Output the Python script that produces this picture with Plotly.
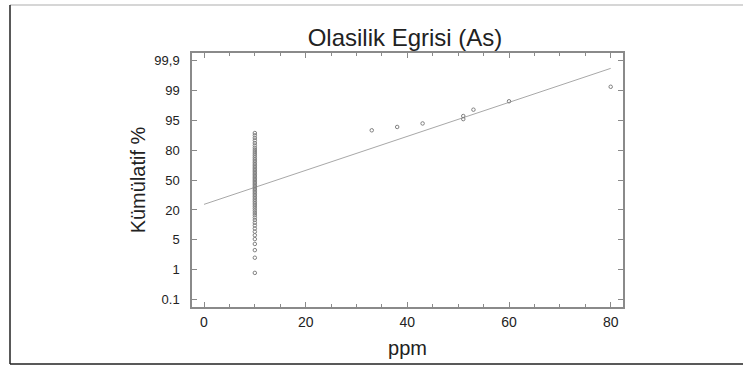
import numpy as np
import plotly.graph_objects as go
from statistics import NormalDist

# ---- data (cumulative %) ----
tick_pct = [0.1, 1, 5, 20, 50, 80, 95, 99, 99.9]
tick_text = ["0.1", "1", "5", "20", "50", "80", "95", "99", "99,9"]

col_x = 10
col_pct = [0.8, 2.0, 3.0, 4.1, 5.2, 6.4, 7.7, 9.0, 10.4, 11.8, 13.3, 14.8, 16.3,
           17.8, 19.4, 21.0, 22.6, 24.2, 25.8, 27.4, 29.0, 30.6, 32.2, 33.8,
           35.4, 37.0, 38.6, 40.2, 41.8, 43.4, 45.0, 46.6, 48.2, 49.8, 51.4,
           53.0, 54.6, 56.2, 57.8, 59.4, 61.0, 62.6, 64.2, 65.8, 67.4, 69.0,
           70.6, 72.2, 73.8, 75.4, 77.0, 78.6, 80.2, 81.8, 83.4, 85.0, 86.6,
           88.0, 89.3, 90.4]
hi_x = [33, 38, 43, 51, 51, 53, 60, 80]
hi_pct = [91.6, 92.9, 94.1, 95.3, 95.95, 97.06, 98.13, 99.23]

line_x = [0, 80]
line_pct = [24.7, 99.81]

nd = NormalDist()
tick_z = [nd.inv_cdf(p / 100) for p in tick_pct]
tick_idx = list(range(len(tick_pct)))


def to_axis(pcts):
    z = [nd.inv_cdf(p / 100) for p in pcts]
    return np.interp(z, tick_z, tick_idx)


xs = [col_x] * len(col_pct) + hi_x
ys = list(to_axis(col_pct)) + list(to_axis(hi_pct))

FONT = "Liberation Sans, Arial, Helvetica, sans-serif"
AX = "#8a8a8a"
TXT = "#222222"

fig = go.Figure()
fig.add_trace(go.Scatter(
    x=line_x, y=to_axis(line_pct), mode="lines",
    line=dict(color="#a8a8a8", width=1), hoverinfo="skip", showlegend=False))
fig.add_trace(go.Scatter(
    x=xs, y=ys, mode="markers",
    marker=dict(symbol="circle-open", size=3.5, color="#808080",
                line=dict(width=1, color="#808080")),
    showlegend=False))

fig.update_layout(
    width=743, height=366,
    margin=dict(l=192, r=120, t=53, b=59, autoexpand=False),
    paper_bgcolor="white", plot_bgcolor="white",
    font=dict(family=FONT, color=TXT, size=13),
    title=dict(text="Olasilik Egrisi (As)", x=405 / 743, xref="container",
               xanchor="center", y=1 - 38 / 366, yref="container",
               yanchor="middle", font=dict(size=24, color=TXT)),
    showlegend=False,
)
fig.update_xaxes(
    automargin=False,
    range=[-2.36, 82.42], tickvals=[0, 20, 40, 60, 80],
    ticks="inside", ticklen=5, tickcolor=AX, tickwidth=1,
    minor=dict(dtick=5, tick0=0, ticks="inside", ticklen=3, tickcolor=AX, tickwidth=1),
    showline=True, linecolor=AX, linewidth=1.5, mirror="ticks",
    showgrid=False, zeroline=False,
    tickfont=dict(size=14, color=TXT), ticklabelstandoff=1,
    title=dict(text="ppm", font=dict(size=20, color=TXT), standoff=12),
)
fig.update_yaxes(
    automargin=False,
    range=[-0.251, 8.258], tickvals=tick_idx, ticktext=tick_text,
    ticks="inside", ticklen=5, tickcolor=AX, tickwidth=1,
    showline=True, linecolor=AX, linewidth=1.5, mirror="ticks",
    showgrid=False, zeroline=False,
    tickfont=dict(size=13, color=TXT), ticklabelstandoff=8,
    title=dict(text="Kümülatif %", font=dict(size=20, color=TXT), standoff=3),
)

# outer frame of the picture
pw, ph = 431.0, 254.0
def px(xp):
    return (xp - 192) / pw
def py(yp):
    return (307 - yp) / ph

fig.add_shape(type="line", xref="paper", yref="paper",
              x0=px(10), x1=px(760), y0=py(5), y1=py(5),
              line=dict(color="#c8c8c8", width=1.5))
fig.add_shape(type="line", xref="paper", yref="paper",
              x0=px(10), x1=px(10), y0=py(5), y1=py(364),
              line=dict(color="#222222", width=1.5))
fig.add_shape(type="line", xref="paper", yref="paper",
              x0=px(10), x1=px(760), y0=py(364), y1=py(364),
              line=dict(color="#222222", width=1.5))

fig.write_html("out.html")
